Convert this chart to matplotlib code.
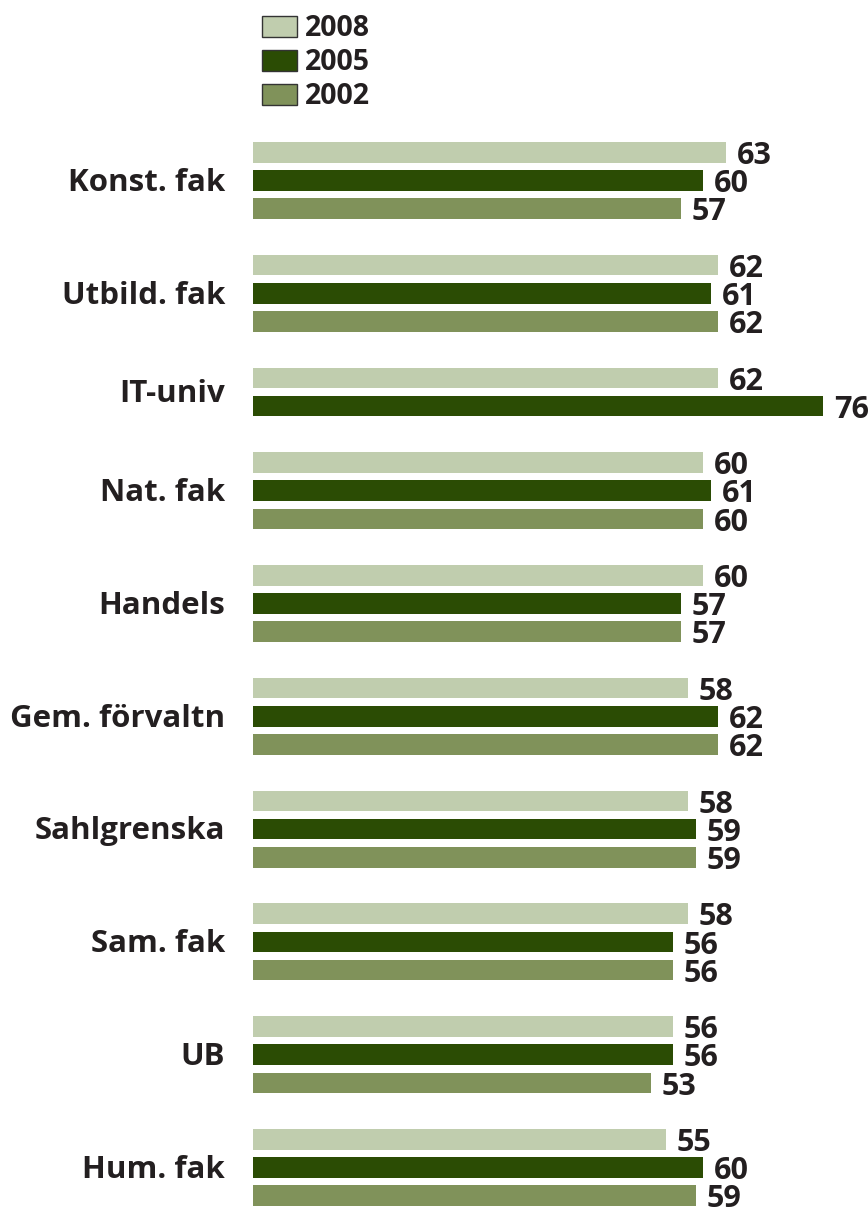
import matplotlib
matplotlib.use("Agg")
import matplotlib.pyplot as plt
from matplotlib.patches import Rectangle

categories = ["Konst. fak", "Utbild. fak", "IT-univ", "Nat. fak", "Handels",
              "Gem. förvaltn", "Sahlgrenska", "Sam. fak", "UB", "Hum. fak"]
series_names = ["2008", "2005", "2002"]
v2008 = [63, 62, 62, 60, 60, 58, 58, 58, 56, 55]
v2005 = [60, 61, 76, 61, 57, 62, 59, 56, 56, 60]
v2002 = [57, 62, None, 60, 57, 62, 59, 56, 53, 59]
colors = ["#C0CDAE", "#2B4C04", "#80925A"]
text_color = "#231F20"

plt.rcParams['font.family'] = ['Open Sans', 'DejaVu Sans']

W, H = 868, 1209
DPI = 100
fig = plt.figure(figsize=(W / DPI, H / DPI), dpi=DPI)

# axes spanning from x=253px to right edge, full height
x0 = 253
px_per_unit = 7.5
ax = fig.add_axes([x0 / W, 0, (W - x0) / W, 1])
ax.set_xlim(0, (W - x0) / px_per_unit)
slot_px = 28.2
first_px = 152.3
ax.set_ylim((H - first_px) / slot_px, -first_px / slot_px)
ax.axis("off")

bar_h = 20.7 / slot_px
fs_val = 22
fs_cat = 22.5
off = 11 / px_per_unit

slot = 0
for i, cat in enumerate(categories):
    vals = [v2008[i], v2005[i], v2002[i]]
    ys = []
    for j, v in enumerate(vals):
        if v is None:
            continue
        ax.barh(slot, v, height=bar_h, color=colors[j], linewidth=0)
        ax.text(v + off, slot + 0.13, str(v), ha="left", va="center",
                fontsize=fs_val, fontweight="bold", color=text_color, clip_on=False)
        ys.append(slot)
        slot += 1
    yc = sum(ys) / len(ys)
    ax.text(-28 / px_per_unit, yc + 0.08, cat, ha="right", va="center",
            fontsize=fs_cat, fontweight="bold", color=text_color, clip_on=False)
    slot += 1

# legend
box_y = [16, 50, 84]
for j, name in enumerate(series_names):
    y = box_y[j]
    fig.patches.append(Rectangle((262 / W, 1 - (y + 20.5) / H), 35 / W, 20.5 / H,
                                 transform=fig.transFigure, facecolor=colors[j],
                                 edgecolor="#333333", linewidth=1.0))
    fig.text(305 / W, 1 - (y + 12) / H, name, ha="left", va="center",
             fontsize=20.5, fontweight="bold", color=text_color)

fig.savefig("out.png", dpi=DPI, facecolor="white")
